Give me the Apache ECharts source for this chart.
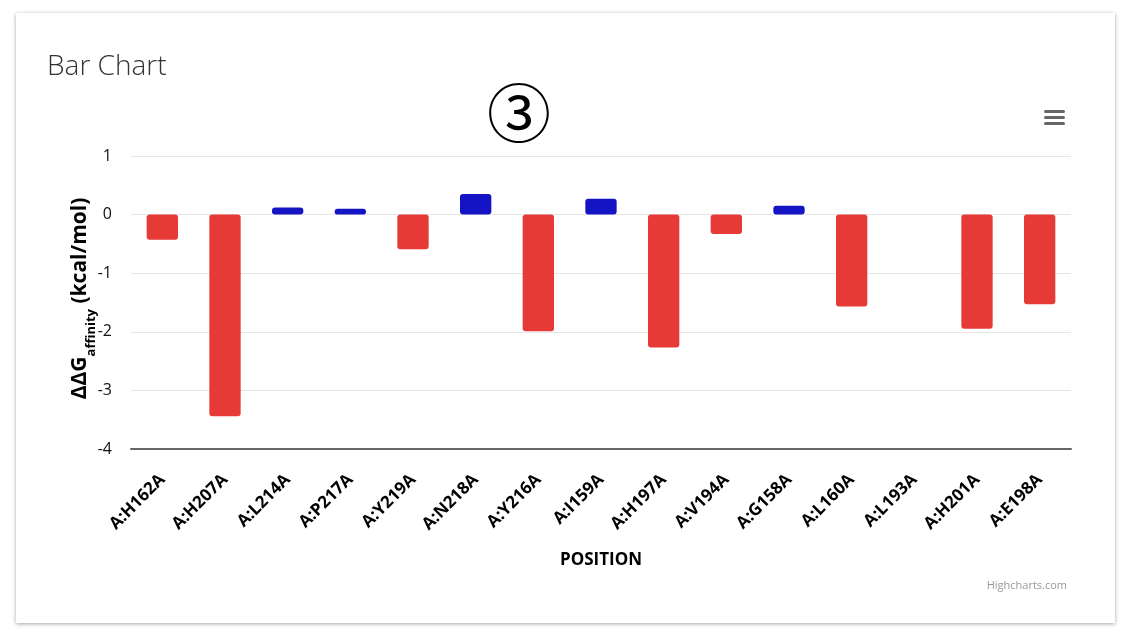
<!DOCTYPE html>
<html>
<head>
<meta charset="utf-8">
<script src="https://cdn.jsdelivr.net/npm/echarts@6/dist/echarts.min.js"></script>
<style>
html,body{margin:0;padding:0;background:#fff;width:1134px;height:633px;overflow:hidden;}
#card{position:absolute;left:16px;top:13px;width:1099px;height:610px;background:#fff;box-shadow:0 1px 4px rgba(0,0,0,0.35);}
#chart{position:absolute;left:0;top:0;width:1134px;height:633px;}
</style>
</head>
<body>
<div id="card"></div>
<div id="chart"></div>
<script>
const categories = ['A:H162A','A:H207A','A:L214A','A:P217A','A:Y219A','A:N218A','A:Y216A','A:I159A','A:H197A','A:V194A','A:G158A','A:L160A','A:L193A','A:H201A','A:E198A'];
const ddgValues = [-0.43, -3.44, 0.12, 0.10, -0.59, 0.35, -1.99, 0.27, -2.27, -0.33, 0.15, -1.57, 0, -1.95, -1.53];
const yTicks = {min: -4, max: 1, interval: 1};

const RED = '#e53a36';
const BLUE = '#1414c4';
const FONT = '"Open Sans", "Noto Sans", sans-serif';

const chart = echarts.init(document.getElementById('chart'), null, {renderer: 'canvas'});
chart.setOption({
  backgroundColor: 'transparent',
  animation: false,
  title: [
    {text: 'Bar Chart', left: 42, top: 48, textStyle: {fontFamily: FONT, fontWeight: 300, fontSize: 28, color: '#333'}},
    {text: '③', left: 482, top: 76, textStyle: {fontFamily: '"Noto Sans CJK JP", sans-serif', fontWeight: 'normal', fontSize: 64, color: '#000'}},
    {text: 'Highcharts.com', right: 62, top: 575, textStyle: {fontFamily: FONT, fontWeight: 'normal', fontSize: 11, color: '#999'}}
  ],
  graphic: [
    {type: 'rect', shape: {x: 1044, y: 110, width: 21, height: 3, r: 1.5}, style: {fill: '#666'}},
    {type: 'rect', shape: {x: 1044, y: 116, width: 21, height: 3, r: 1.5}, style: {fill: '#666'}},
    {type: 'rect', shape: {x: 1044, y: 122, width: 21, height: 3, r: 1.5}, style: {fill: '#666'}}
  ],
  grid: {left: 131, right: 63, top: 156, bottom: 184, containLabel: false},
  xAxis: {
    type: 'category',
    data: categories,
    name: 'POSITION',
    nameLocation: 'middle',
    nameGap: 103,
    nameMoveOverlap: false,
    nameTextStyle: {fontFamily: FONT, fontWeight: 'bold', fontSize: 17, color: '#000'},
    axisLine: {onZero: false, lineStyle: {color: '#666', width: 2}},
    axisTick: {show: false},
    axisLabel: {rotate: 45, interval: 0, margin: 28, fontFamily: FONT, fontWeight: 'bold', fontSize: 17, color: '#000'},
    splitLine: {show: false}
  },
  yAxis: {
    type: 'value',
    min: yTicks.min, max: yTicks.max, interval: yTicks.interval,
    name: '{b|ΔΔG}{s|affinity}{b| (kcal/mol)}',
    nameLocation: 'middle',
    nameRotate: 90,
    nameGap: 40,
    nameMoveOverlap: false,
    nameTextStyle: {
      padding: [0, 0, 0, 8],
      rich: {
        b: {fontFamily: FONT, fontWeight: 'bold', fontSize: 21, color: '#000', verticalAlign: 'bottom', lineHeight: 25},
        s: {fontFamily: FONT, fontWeight: 'bold', fontSize: 13, color: '#000', verticalAlign: 'bottom', lineHeight: 14, padding: [0,0,-7,0]}
      }
    },
    axisLine: {show: false},
    axisTick: {show: false},
    axisLabel: {margin: 19, fontFamily: FONT, fontSize: 16, color: '#111'},
    splitLine: {lineStyle: {color: '#e6e6e6', width: 1}}
  },
  series: [{
    type: 'bar',
    data: ddgValues,
    barWidth: '50%',
    itemStyle: {
      borderRadius: 3,
      color: p => p.value >= 0 ? BLUE : RED
    }
  }]
});
</script>
</body>
</html>
